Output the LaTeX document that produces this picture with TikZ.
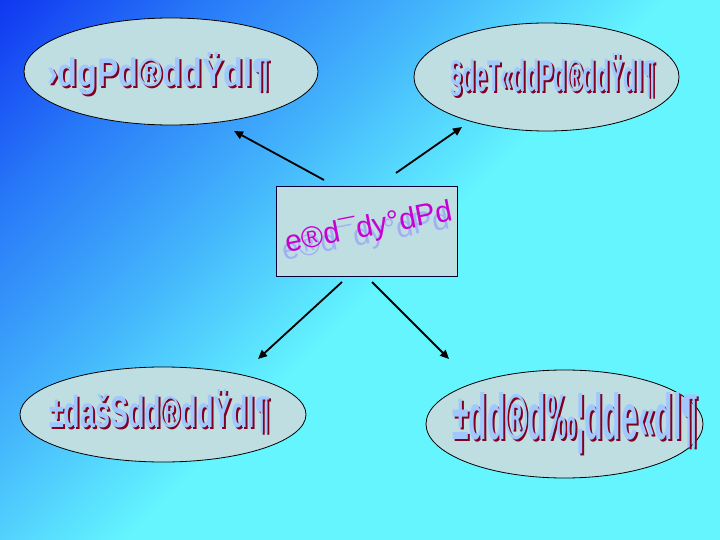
\documentclass[tikz,border=0pt]{standalone}
\usepackage{fontspec}
\setmainfont{Liberation Sans}
\usetikzlibrary{shapes.geometric,arrows.meta}
\definecolor{bgA}{RGB}{16,56,240}
\definecolor{bgB}{RGB}{40,120,248}
\definecolor{bgC}{RGB}{70,185,252}
\definecolor{bgD}{RGB}{100,245,255}
\definecolor{boxfill}{RGB}{190,222,226}
\definecolor{txtfill}{RGB}{160,200,255}
\definecolor{txtshadow}{RGB}{128,0,32}
\definecolor{ctrtxt}{RGB}{200,0,210}
\definecolor{ctrshadow}{RGB}{160,176,240}
\pgfdeclarehorizontalshading{bgshade}{100bp}{color(0bp)=(bgA); color(14.64bp)=(bgA); color(26bp)=(bgB); color(40bp)=(bgC); color(52bp)=(bgD); color(100bp)=(bgD)}
\begin{document}
\begin{tikzpicture}[x=1pt,y=-1pt,
  oval/.style={ellipse, draw=black, line width=0.8pt, fill=boxfill, inner sep=0pt},
  centerbox/.style={rectangle, draw=black!80!blue, line width=0.8pt, fill=boxfill, inner sep=0pt, minimum width=181pt, minimum height=90pt},
  shadowtxt/.style={inner sep=0pt, anchor=base west, text=txtshadow, font=\bfseries},
  maintxt/.style={inner sep=0pt, anchor=base west, text=txtfill, font=\bfseries},
  ctrfont/.style={inner sep=0pt, rotate=11, font=\fontsize{30}{34}\selectfont},
  conn/.style={line width=1.8pt, black, -{Triangle[length=9pt,width=8pt]}}
]
\shade[shading=bgshade, shading angle=-45] (0,0) rectangle (720,540);
\useasboundingbox (0,0) rectangle (720,540);

% ellipses
\node[oval, minimum width=294pt, minimum height=107pt] (tl) at (171,71.5) {};
\node[oval, minimum width=265pt, minimum height=108pt] (tr) at (546.5,77) {};
\node[oval, minimum width=286pt, minimum height=95pt] (bl) at (163,414.5) {};
\node[oval, minimum width=277pt, minimum height=108pt] (br) at (564.5,424) {};

% centre box
\node[centerbox] (ctr) at (366.5,231) {};

% texts
\node[shadowtxt] (tlS) at (49,89) {\resizebox{223pt}{34pt}{›dgPd®ddŸdl¶}};
\node[maintxt] (tlT) at (47,87) {\resizebox{223pt}{34pt}{›dgPd®ddŸdl¶}};
\node[shadowtxt] (trS) at (452,94) {\resizebox{205pt}{38pt}{§deT«ddPd®ddŸdl¶}};
\node[maintxt] (trT) at (450,92) {\resizebox{205pt}{38pt}{§deT«ddPd®ddŸdl¶}};
\node[shadowtxt] (blS) at (51,429) {\resizebox{221pt}{38pt}{±dašSdd®ddŸdl¶}};
\node[maintxt] (blT) at (49,427) {\resizebox{221pt}{38pt}{±dašSdd®ddŸdl¶}};
\node[shadowtxt] (brS) at (454,441) {\resizebox{246pt}{47pt}{±dd®d‰¦dde«dl¶}};
\node[maintxt] (brT) at (452,439) {\resizebox{246pt}{47pt}{±dd®d‰¦dde«dl¶}};

\node[ctrfont, text=ctrshadow] (cS) at (366,236) {e®d¯dy°dPd};
\node[ctrfont, text=ctrtxt] (cT) at (369,228) {e®d¯dy°dPd};

% connectors
\coordinate (a1s) at (324,180); \coordinate (a1e) at (234,131);
\coordinate (a2s) at (396,173); \coordinate (a2e) at (462,127);
\coordinate (a3s) at (342,282); \coordinate (a3e) at (258,359);
\coordinate (a4s) at (372,282); \coordinate (a4e) at (449,359);
\draw[conn] (a1s) -- (a1e);
\draw[conn] (a2s) -- (a2e);
\draw[conn] (a3s) -- (a3e);
\draw[conn] (a4s) -- (a4e);
\end{tikzpicture}
\end{document}
